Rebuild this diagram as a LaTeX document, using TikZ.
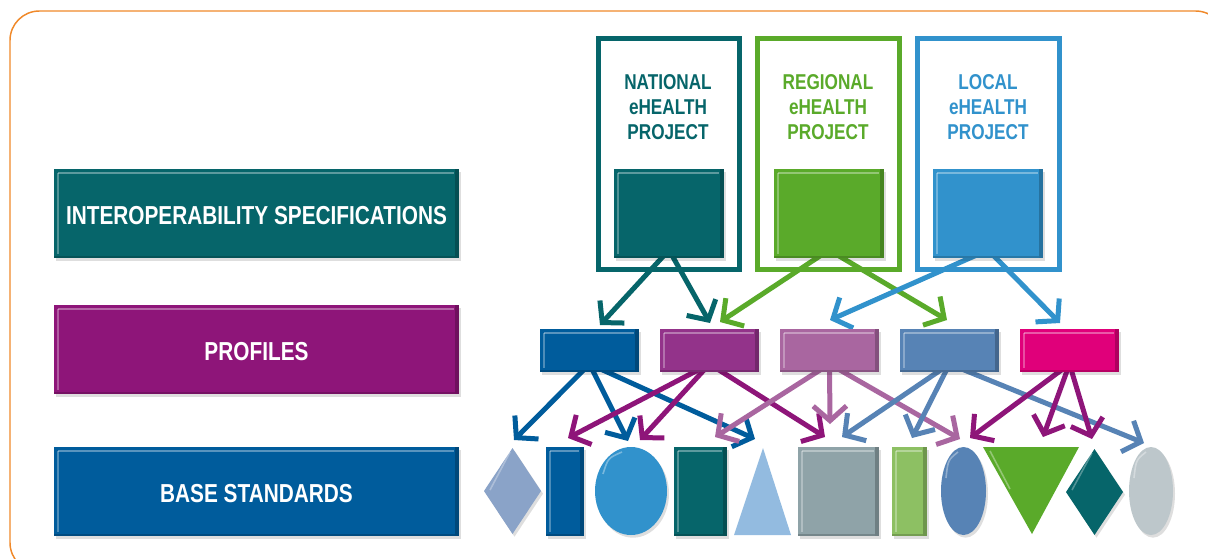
\documentclass[tikz,border=0pt]{standalone}
\usepackage{fontspec}
\newfontfamily\cond{Liberation Sans}[FakeStretch=0.8]
\usetikzlibrary{arrows.meta,fit,shapes.geometric,shadows}
\pgfdeclarelayer{back}
\pgfdeclarelayer{arrs}
\pgfsetlayers{back,arrs,main}
\definecolor{cteal}{HTML}{06656A}
\definecolor{cgreen}{HTML}{5AAA2A}
\definecolor{clblue}{HTML}{3192CC}
\definecolor{cblue}{HTML}{005C9C}
\definecolor{cpurple}{HTML}{8E1579}
\definecolor{cpurpleb}{HTML}{93338A}
\definecolor{clpurple}{HTML}{A966A0}
\definecolor{csteel}{HTML}{5783B5}
\definecolor{cmagenta}{HTML}{E0007A}
\definecolor{cdia}{HTML}{8AA3C8}
\definecolor{ctri}{HTML}{93BBE0}
\definecolor{cgrey}{HTML}{8FA3A8}
\definecolor{clgreen}{HTML}{8DC063}
\definecolor{clgrey}{HTML}{BDC7CB}
\definecolor{corange}{HTML}{F0892A}
\newcommand\glossbox[2]{%
  \fill[#2!78!black] ([xshift=-3pt]#1.north east) rectangle (#1.south east);
  \fill[#2!82!black] ([yshift=1.8pt]#1.south west) rectangle ([xshift=-3pt]#1.south east);
  \draw[white,opacity=.35,line width=1.2pt] ([xshift=3pt,yshift=-3pt]#1.north west) -- ([xshift=-4pt,yshift=-3pt]#1.north east);
  \draw[white,opacity=.3,line width=1.2pt] ([xshift=3pt,yshift=-3pt]#1.north west) -- ([xshift=3pt,yshift=3pt]#1.south west);
}
\begin{document}
\begin{tikzpicture}[x=0.75pt,y=-0.75pt,
  box/.style={inner sep=0pt, outer sep=0pt, draw=none},
  shad/.style={drop shadow={shadow xshift=1.5pt,shadow yshift=-2pt,opacity=.13,fill=black}},
  bartext/.style={text=white, font=\cond\bfseries\fontsize{19.5pt}{22pt}\selectfont, text height=14pt, text depth=0pt, inner sep=0pt},
  projtext/.style={font=\cond\bfseries\fontsize{16.1pt}{18pt}\selectfont, text height=11.5pt, text depth=0pt, inner sep=0pt},
  projframe/.style={draw, line width=3.75pt, inner sep=0pt, outer sep=0pt},
  arr/.style={line width=3.75pt, -{Straight Barb[length=11pt,width=25pt]}}]
\useasboundingbox (0,0) rectangle (1208,558);
\begin{pgfonlayer}{back}
\fill[white] (0,0) rectangle (1208,558);
\draw[corange, line width=1.1pt, rounded corners=22pt] (10,11) rectangle (1225,572);
\end{pgfonlayer}

% left bars
\node[box, shad, fill=cteal, fit={(54,169)(459,258)}] (IS) {};
\glossbox{IS}{cteal}
\node[bartext] (IStext) at ([yshift=-1.5pt]IS.center) {INTEROPERABILITY SPECIFICATIONS};
\node[box, shad, fill=cpurple, fit={(54,305)(459,394)}] (PR) {};
\glossbox{PR}{cpurple}
\node[bartext] (PRtext) at ([yshift=-1.5pt]PR.center) {PROFILES};
\node[box, shad, fill=cblue, fit={(54,447)(459,536)}] (BS) {};
\glossbox{BS}{cblue}
\node[bartext] (BStext) at ([yshift=-1.5pt]BS.center) {BASE STANDARDS};

% project frames
\node[projframe, draw=cteal, fit={(598.5,38.5)(739.5,269.5)}] (Nout) {};
\node[projframe, draw=cgreen, fit={(757.5,38.5)(899.5,269.5)}] (Rout) {};
\node[projframe, draw=clblue, fit={(917.5,38.5)(1059.5,269.5)}] (Lout) {};
\node[projtext, text=cteal] (N1) at (668,82) {NATIONAL};
\node[projtext, text=cteal] (N2) at (668,107) {eHEALTH};
\node[projtext, text=cteal] (N3) at (668,132) {PROJECT};
\node[projtext, text=cgreen] (R1) at (828,82) {REGIONAL};
\node[projtext, text=cgreen] (R2) at (828,107) {eHEALTH};
\node[projtext, text=cgreen] (R3) at (828,132) {PROJECT};
\node[projtext, text=clblue] (L1) at (988,82) {LOCAL};
\node[projtext, text=clblue] (L2) at (988,107) {eHEALTH};
\node[projtext, text=clblue] (L3) at (988,132) {PROJECT};
\node[box, shad, fill=cteal, fit={(614,169)(724,258)}] (Nin) {};
\glossbox{Nin}{cteal}
\node[box, shad, fill=cgreen, fit={(774,169)(884,258)}] (Rin) {};
\glossbox{Rin}{cgreen}
\node[box, shad, fill=clblue, fit={(933,169)(1043,258)}] (Lin) {};
\glossbox{Lin}{clblue}

% profiles
\node[box, shad, fill=cblue, fit={(540,329)(639,372)}] (P1) {};
\glossbox{P1}{cblue}
\node[box, shad, fill=cpurpleb, fit={(660,329)(759,372)}] (P2) {};
\glossbox{P2}{cpurpleb}
\node[box, shad, fill=clpurple, fit={(780,329)(879,372)}] (P3) {};
\glossbox{P3}{clpurple}
\node[box, shad, fill=csteel, fit={(900,329)(999,372)}] (P4) {};
\glossbox{P4}{csteel}
\node[box, shad, fill=cmagenta, fit={(1020,329)(1119,372)}] (P5) {};
\glossbox{P5}{cmagenta}

% base standards
\node[box, shad, diamond, fill=cdia, minimum width=42.75pt, minimum height=64.5pt] (B1) at (512.5,491) {};
\node[box, shad, fill=cblue, fit={(546,447)(584,536)}] (B2) {};
\glossbox{B2}{cblue}
\node[box, shad, ellipse, fill=clblue, minimum width=54pt, minimum height=66pt] (B3) at (631,491) {};
\node[box, shad, fill=cteal, fit={(674,447)(727,536)}] (B4) {};
\glossbox{B4}{cteal}
\fill[ctri] (763,448) -- (791,535) -- (734,535) -- cycle;
\coordinate (B5) at (763,448);
\node[box, shad, fill=cgrey, fit={(798,447)(879,536)}] (B6) {};
\glossbox{B6}{cgrey}
\node[box, shad, fill=clgreen, fit={(892,447)(927,536)}] (B7) {};
\glossbox{B7}{clgreen}
\node[box, shad, ellipse, fill=csteel, minimum width=33.75pt, minimum height=66pt] (B8) at (963.5,491) {};
\fill[cgreen] (983,447) -- (1079,447) -- (1032,534) -- cycle;
\coordinate (B9) at (1031,447);
\node[box, shad, diamond, fill=cteal, minimum width=42.75pt, minimum height=64.5pt] (B10) at (1094.5,492) {};
\node[box, shad, ellipse, fill=clgrey, minimum width=33pt, minimum height=66pt] (B11) at (1151,491) {};
% highlights on shaped standards
\draw[white,opacity=.35,line width=1.2pt] (603,474) .. controls (608,458) .. (622,452);
\draw[white,opacity=.35,line width=1.2pt] (958,452) .. controls (948,460) .. (946,478);
\draw[white,opacity=.35,line width=1.2pt] (1146,452) .. controls (1136,460) .. (1134,478);
\draw[white,opacity=.35,line width=1.2pt] (990,451) -- (1010,489);
\draw[white,opacity=.3,line width=1.2pt] (510,452) -- (490,490);
\draw[white,opacity=.3,line width=1.2pt] (1092,453) -- (1072,490);

% apex coordinates
\coordinate (Nap) at ([yshift=6pt]Nin.south);
\coordinate (Rap) at ([yshift=6pt]Rin.south);
\coordinate (Lap) at ([yshift=6pt]Lin.south);
\coordinate (P1ap) at ([yshift=6pt]P1.south);
\coordinate (P2ap) at ([yshift=6pt]P2.south);
\coordinate (P3ap) at ([yshift=6pt]P3.south);
\coordinate (P4ap) at ([yshift=6pt]P4.south);
\coordinate (P5ap) at ([yshift=6pt]P5.south);

% arrow tip coordinates
\coordinate (tN1) at (600,325); \coordinate (tN2) at (710,323);
\coordinate (tR1) at (720,322); \coordinate (tR2) at (947,320);
\coordinate (tL1) at (830,320); \coordinate (tL2) at (1060,323);
\coordinate (t11) at (514,440); \coordinate (t12) at (628,441); \coordinate (t13) at (755,439);
\coordinate (t21) at (568,438); \coordinate (t22) at (640,440); \coordinate (t23) at (825,437);
\coordinate (t31) at (715,437); \coordinate (t32) at (830,424); \coordinate (t33) at (960,439);
\coordinate (t41) at (842,437); \coordinate (t42) at (912,438); \coordinate (t43) at (1144,443);
\coordinate (t51) at (970,438); \coordinate (t52) at (1043,437); \coordinate (t53) at (1092,439);

\begin{pgfonlayer}{arrs}
\draw[arr, cteal] (Nap) -- (tN1);
\draw[arr, cteal] (Nap) -- (tN2);
\draw[arr, cgreen] (Rap) -- (tR1);
\draw[arr, cgreen] (Rap) -- (tR2);
\draw[arr, clblue] (Lap) -- (tL1);
\draw[arr, clblue] (Lap) -- (tL2);
\draw[arr, cblue] (P1ap) -- (t11);
\draw[arr, cblue] (P1ap) -- (t12);
\draw[arr, cblue] (P1ap) -- (t13);
\draw[arr, cpurple] (P2ap) -- (t21);
\draw[arr, cpurple] (P2ap) -- (t22);
\draw[arr, cpurple] (P2ap) -- (t23);
\draw[arr, clpurple] (P3ap) -- (t31);
\draw[arr, clpurple] (P3ap) -- (t32);
\draw[arr, clpurple] (P3ap) -- (t33);
\draw[arr, csteel] (P4ap) -- (t41);
\draw[arr, csteel] (P4ap) -- (t42);
\draw[arr, csteel] (P4ap) -- (t43);
\draw[arr, cpurple] (P5ap) -- (t51);
\draw[arr, cpurple] (P5ap) -- (t52);
\draw[arr, cpurple] (P5ap) -- (t53);
\end{pgfonlayer}
\end{tikzpicture}
\end{document}
